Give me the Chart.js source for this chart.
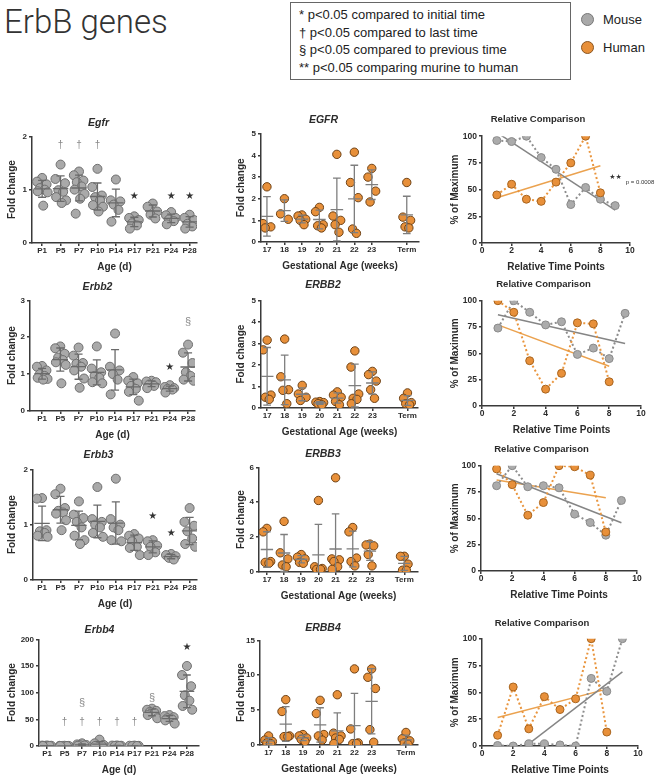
<!DOCTYPE html>
<html>
<head>
<meta charset="utf-8">
<script src="https://cdn.jsdelivr.net/npm/chart.js@4/dist/chart.umd.min.js"></script>
<style>
  *{margin:0;padding:0;box-sizing:border-box}
  html,body{width:666px;height:780px;background:#fff;overflow:hidden}
  body{position:relative;font-family:'Liberation Sans',Arial,sans-serif;color:#222}
  .head{position:absolute;left:4px;top:2px;font-family:Roboto,sans-serif;font-weight:300;font-size:33px;color:#333;line-height:40px}
  .key{position:absolute;left:290px;top:2px;width:281px;height:78px;border:1px solid #666;padding:3px 0 0 8px;font-size:13px;line-height:17.5px}
  .sp{position:absolute;left:581px;font-size:13px;line-height:16px}
  .sp i{display:inline-block;width:13px;height:13px;border-radius:50%;vertical-align:-2px;margin-right:9px}
  canvas{position:absolute}
</style>
</head>
<body>
<div class="head">ErbB genes</div>
<div class="key">
  <div>* p&lt;0.05 compared to initial time</div>
  <div>† p&lt;0.05 compared to last time</div>
  <div>§ p&lt;0.05 compared to previous time</div>
  <div>** p&lt;0.05 comparing murine to human</div>
</div>
<div class="sp" style="top:12px"><i style="background:#a9a9a9;border:1.5px solid #777"></i>Mouse</div>
<div class="sp" style="top:40px"><i style="background:#e8903a;border:1.5px solid #8a5520"></i>Human</div>
<script>
// ─── Mouse lung, fold change per postnatal day ──────────────────
const MOUSE_AGES = ["P1", "P5", "P7", "P10", "P14", "P17", "P21", "P24", "P28"];
const MOUSE_POS = [0, 1, 2, 3, 4, 5, 6, 7, 8];

const EGFR_MOUSE = [
  [1.22, 1.15, 1.10, 1.03, 1.00, 0.97, 0.95, 0.70],
  [1.47, 1.20, 1.12, 0.99, 0.96, 0.86, 0.80, 0.75],
  [1.34, 1.27, 1.17, 1.14, 1.06, 1.00, 0.92, 0.83, 0.55],
  [1.39, 1.05, 0.89, 0.86, 0.80, 0.71, 0.68, 0.59],
  [1.19, 0.80, 0.78, 0.72, 0.62, 0.40],
  [0.50, 0.47, 0.43, 0.37, 0.33, 0.27],
  [0.74, 0.68, 0.59, 0.53, 0.46],
  [0.58, 0.52, 0.47, 0.44, 0.41, 0.35],
  [0.53, 0.47, 0.43, 0.36, 0.31, 0.27],
];
const ERBB2_MOUSE = [
  [1.22, 1.20, 1.10, 1.00, 0.95, 0.90, 0.87, 0.85],
  [1.75, 1.70, 1.55, 1.45, 1.38, 1.32, 1.25, 0.75],
  [1.72, 1.50, 1.30, 1.28, 1.20, 1.10, 0.88, 0.63],
  [1.75, 1.15, 1.05, 0.95, 0.90, 0.78, 0.75],
  [2.10, 1.20, 1.10, 1.00, 0.85, 0.45],
  [0.92, 0.82, 0.75, 0.68, 0.60, 0.52, 0.28],
  [0.82, 0.80, 0.78, 0.72, 0.68, 0.62],
  [0.70, 0.65, 0.62, 0.60, 0.58, 0.50],
  [1.80, 1.58, 1.30, 1.05, 0.95, 0.85, 0.82],
];
const ERBB3_MOUSE = [
  [1.48, 1.47, 0.90, 0.88, 0.85, 0.80, 0.78],
  [1.65, 1.55, 1.30, 1.25, 1.22, 1.20, 1.08, 0.90],
  [1.42, 1.18, 1.12, 1.05, 0.95, 0.80, 0.72, 0.65],
  [1.68, 1.10, 1.05, 1.00, 0.95, 0.85, 0.78],
  [1.83, 1.10, 1.00, 0.95, 0.90, 0.72, 0.70],
  [0.83, 0.80, 0.75, 0.70, 0.60, 0.58, 0.45],
  [0.72, 0.70, 0.62, 0.60, 0.50, 0.45],
  [0.47, 0.45, 0.43, 0.40, 0.37],
  [1.30, 1.05, 0.98, 0.88, 0.75, 0.65, 0.60],
];
const ERBB4_MOUSE = [
  [1.0, 0.8, 0.5, 0.3, 0.2, 0.1],
  [0.5, 0.3, 0.2, 0.1, 0.05, 0.0],
  [5.0, 3.0, 2.0, 1.5, 1.0, 0.5],
  [12.0, 5.0, 2.0, 1.0, 0.5, 0.2],
  [1.0, 0.8, 0.5, 0.3, 0.2],
  [0.8, 0.5, 0.3, 0.2, 0.1],
  [70, 68, 66, 64, 62, 58, 52],
  [58, 56, 54, 52, 50, 48, 42],
  [150, 133, 112, 95, 85, 75, 68],
];

// significance marks: category index, height, symbol
const EGFR_MARKS = [
  { at: 1, y: 1.83, s: "†" }, { at: 2, y: 1.83, s: "†" }, { at: 3, y: 1.83, s: "†" },
  { at: 5, y: 0.875, s: "★" }, { at: 7, y: 0.875, s: "★" }, { at: 8, y: 0.875, s: "★" },
];
const ERBB2_MARKS = [{ at: 7, y: 1.18, s: "★" }, { at: 8, y: 2.4, s: "§" }];
const ERBB3_MARKS = [{ at: 6, y: 1.15, s: "★" }, { at: 7, y: 0.85, s: "★" }];
const ERBB4_MARKS = [
  { at: 1, y: 44, s: "†" }, { at: 2, y: 44, s: "†" }, { at: 3, y: 44, s: "†" },
  { at: 4, y: 44, s: "†" }, { at: 5, y: 44, s: "†" },
  { at: 2, y: 80, s: "§" }, { at: 6, y: 90, s: "§" }, { at: 8, y: 185, s: "★" },
];

// ─── Human lung, fold change per gestational week ───────────────
const HUMAN_AGES = ["17", "18", "19", "20", "21", "22", "23", "Term"];
const HUMAN_POS = [0, 1, 2, 3, 4, 5, 6, 8];

const EGFR_HUMAN = [
  [2.55, 0.85, 0.70, 0.65],
  [2.00, 1.30, 1.05],
  [1.25, 1.20, 1.05, 1.00, 0.80],
  [1.60, 1.40, 0.80, 0.75, 0.65],
  [4.05, 1.20, 1.00, 0.80, 0.45],
  [4.15, 2.75, 2.05, 0.60, 0.40],
  [3.40, 3.00, 2.35, 1.85],
  [2.75, 1.15, 1.00, 0.70, 0.65],
];
const ERBB2_HUMAN = [
  [3.15, 2.70, 0.60, 0.50, 0.40],
  [3.20, 1.45, 0.85, 0.82, 0.20],
  [1.05, 0.65, 0.50, 0.35],
  [0.30, 0.27, 0.25, 0.20, 0.15],
  [0.75, 0.60, 0.50, 0.30, 0.15],
  [2.65, 1.90, 0.65, 0.45, 0.40, 0.20],
  [1.70, 1.55, 1.25, 0.85, 0.45],
  [0.70, 0.45, 0.25, 0.20, 0.15],
];
const ERBB3_HUMAN = [
  [2.50, 2.30, 0.60, 0.55, 0.50],
  [2.90, 1.10, 0.75, 0.40, 0.30],
  [1.00, 0.85, 0.75, 0.55, 0.50],
  [4.10, 0.30, 0.20, 0.15, 0.15],
  [5.40, 0.75, 0.70, 0.60, 0.30, 0.15],
  [2.55, 2.30, 0.80, 0.60, 0.35],
  [1.60, 1.55, 1.50, 1.00, 0.35],
  [0.90, 0.90, 0.45, 0.10, 0.10],
];
const ERBB4_HUMAN = [
  [1.3, 0.7, 0.5, 0.3, 0.2],
  [6.5, 4.8, 1.3, 1.2, 1.2],
  [1.5, 1.3, 1.0, 0.8, 0.5],
  [6.4, 4.5, 1.5, 1.3, 0.7],
  [7.2, 1.7, 1.3, 1.0, 0.8, 0.2],
  [10.9, 2.3, 0.3, 0.2, 0.2],
  [10.9, 9.7, 8.1, 2.2, 0.4],
  [1.8, 0.9, 0.6, 0.3, 0.1],
];

// ─── Relative comparison, % of maximum ──────────────────────────
const REL_X_MOUSE = [1, 2, 3, 4, 5, 6, 7, 8, 9];
const REL_X_HUMAN = [1, 2, 3, 4, 5, 6, 7, 8];
const EGFR_REL_MOUSE = [96, 95, 100, 80, 69, 36, 52, 41, 35];
const EGFR_REL_HUMAN = [45, 55, 41, 39, 57, 75, 100, 47];
const ERBB2_REL_MOUSE = [74, 100, 89, 77, 80, 49, 55, 45, 88];
const ERBB2_REL_HUMAN = [100, 89, 43, 16, 31, 79, 78, 23];
const ERBB3_REL_MOUSE = [81, 100, 80, 81, 79, 54, 46, 34, 67];
const ERBB3_REL_HUMAN = [97, 82, 53, 65, 100, 99, 91, 37];
const ERBB4_REL_MOUSE = [0.5, 0, 2, 2, 1, 0, 63, 51, 100];
const ERBB4_REL_HUMAN = [10, 55, 16, 46, 34, 44, 100, 13];

// ─── Styling ────────────────────────────────────────────────────
const FONT = "'Liberation Sans', Arial, sans-serif";
const INK = "#2b2b2b";
const AXIS = "#3a3a3a";
const JIT_M = [0, -0.28, 0.24, -0.12, 0.14, -0.24, 0.3, 0.06, -0.18];
const JIT_H = [0, -0.22, 0.22, -0.1, 0.12, -0.2];
const X_AXIS_H = 30;
const COL_LEFT = [0, 228, 446];
const SYMBOL_STYLE = {
  "†": { font: `10px ${FONT}`, color: "#8a8a8a" },
  "§": { font: `11px ${FONT}`, color: "#8a8a8a" },
  "★": { font: `10px 'DejaVu Sans'`, color: "#333" },
};

const PANELS = [
  { col: 0, kind: "mouse", title: "Egfr", groups: EGFR_MOUSE, marks: EGFR_MARKS, yMax: 2, yStep: 1, area: [32, 136, 197, 243], xr: [-0.55, 8.4], tg: 13 },
  { col: 0, kind: "mouse", title: "Erbb2", groups: ERBB2_MOUSE, marks: ERBB2_MARKS, yMax: 3, yStep: 1, area: [30, 300, 195, 411], xr: [-0.66, 8.38], tg: 13 },
  { col: 0, kind: "mouse", title: "Erbb3", groups: ERBB3_MOUSE, marks: ERBB3_MARKS, yMax: 2, yStep: 1, area: [33, 469, 197, 580], xr: [-0.49, 8.4], tg: 14 },
  { col: 0, kind: "mouse", title: "Erbb4", groups: ERBB4_MOUSE, marks: ERBB4_MARKS, yMax: 200, yStep: 50, area: [39, 639, 199, 746], xr: [-0.46, 8.69], tg: 9 },
  { col: 1, kind: "human", title: "EGFR", groups: EGFR_HUMAN, yMax: 5, yStep: 1, area: [261, 134, 419, 242], xr: [-0.34, 8.7], tg: 13.5 },
  { col: 1, kind: "human", title: "ERBB2", groups: ERBB2_HUMAN, yMax: 5, yStep: 1, area: [261, 300, 418, 408], xr: [-0.35, 8.6], tg: 15 },
  { col: 1, kind: "human", title: "ERBB3", groups: ERBB3_HUMAN, yMax: 6, yStep: 2, area: [259, 467, 418, 572], xr: [-0.46, 8.8], tg: 13 },
  { col: 1, kind: "human", title: "ERBB4", groups: ERBB4_HUMAN, yMax: 15, yStep: 5, area: [260, 640, 418, 745], xr: [-0.5, 8.7], tg: 12 },
  { col: 2, kind: "rel", mouse: EGFR_REL_MOUSE, human: EGFR_REL_HUMAN, area: [482, 136, 630, 243], tg: 16.5, padR: 36,
    notes: [{ at: 9.02, y: 61.4, s: "★★", font: `7px 'DejaVu Sans'`, color: "#333" },
            { at: 9.71, y: 57.2, s: "p = 0.0008", font: `6px ${FONT}`, color: "#333", align: "left" }] },
  { col: 2, kind: "rel", mouse: ERBB2_REL_MOUSE, human: ERBB2_REL_HUMAN, area: [482, 301, 641, 406], tg: 16 },
  { col: 2, kind: "rel", mouse: ERBB3_REL_MOUSE, human: ERBB3_REL_HUMAN, area: [481, 466, 637, 571], tg: 16 },
  { col: 2, kind: "rel", mouse: ERBB4_REL_MOUSE, human: ERBB4_REL_HUMAN, area: [482, 639, 638, 746], tg: 15 },
];

// ─── Helpers ────────────────────────────────────────────────────
function meanSd(v) {
  const n = v.length;
  const m = v.reduce((a, b) => a + b, 0) / n;
  const sd = Math.sqrt(v.reduce((a, b) => a + (b - m) ** 2, 0) / (n - 1));
  return [m, sd];
}

function fitLine(xs, ys) {
  const n = xs.length;
  const mx = xs.reduce((a, b) => a + b, 0) / n;
  const my = ys.reduce((a, b) => a + b, 0) / n;
  let sxy = 0, sxx = 0;
  xs.forEach((x, i) => { sxy += (x - mx) * (ys[i] - my); sxx += (x - mx) ** 2; });
  const b = sxy / sxx;
  return [xs[0], xs[n - 1]].map(x => ({ x, y: my + b * (x - mx) }));
}

// mean line + SD whiskers, drawn over the dots
const errorBars = {
  id: "errorBars",
  afterDatasetsDraw(chart, args, o) {
    if (!o.groups) return;
    const { ctx, chartArea: a, scales: { x, y } } = chart;
    const unit = Math.abs(x.getPixelForValue(1) - x.getPixelForValue(0));
    ctx.save();
    ctx.beginPath();
    ctx.rect(a.left, a.top - 2, a.right - a.left, a.bottom - a.top + 2);
    ctx.clip();
    ctx.strokeStyle = o.color;
    ctx.lineWidth = 1.3;
    o.groups.forEach((v, i) => {
      const [m, sd] = meanSd(v);
      const cx = x.getPixelForValue(o.pos[i]);
      const ym = y.getPixelForValue(m), yt = y.getPixelForValue(m + sd), yb = y.getPixelForValue(m - sd);
      const hw = unit * o.meanW, cw = unit * o.capW;
      ctx.beginPath();
      ctx.moveTo(cx - hw, ym); ctx.lineTo(cx + hw, ym);
      ctx.moveTo(cx, yt); ctx.lineTo(cx, yb);
      ctx.moveTo(cx - cw, yt); ctx.lineTo(cx + cw, yt);
      ctx.moveTo(cx - cw, yb); ctx.lineTo(cx + cw, yb);
      ctx.stroke();
    });
    ctx.restore();
  },
};

// significance symbols and the p-value note
const sigMarks = {
  id: "sigMarks",
  afterDraw(chart, args, o) {
    if (!o.items) return;
    const { ctx, scales: { x, y } } = chart;
    ctx.save();
    ctx.textBaseline = "middle";
    o.items.forEach(m => {
      const st = SYMBOL_STYLE[m.s] || {};
      ctx.font = m.font || st.font;
      ctx.fillStyle = m.color || st.color;
      ctx.textAlign = m.align || "center";
      ctx.fillText(m.s, x.getPixelForValue(m.at), y.getPixelForValue(m.y));
    });
    ctx.restore();
  },
};

function scales(p, geo, xCfg, yCfg, xTitle, yTitle, yTitlePad, tickSize) {
  const tickFont = { family: FONT, size: tickSize, weight: "bold" };
  const titleFont = { family: FONT, size: 10, weight: "bold" };
  const grid = { drawOnChartArea: false, drawTicks: true, tickLength: 3, color: AXIS, lineWidth: 1.5 };
  const border = { color: AXIS, width: 1.5 };
  return {
    x: Object.assign({
      type: "linear", grid, border,
      title: { display: true, text: xTitle, font: titleFont, color: INK, padding: 0 },
      afterFit: s => { s.height = X_AXIS_H; },
    }, xCfg, { ticks: Object.assign({ font: tickFont, color: INK, padding: 0, autoSkip: false, maxRotation: 0 }, xCfg.ticks) }),
    y: Object.assign({
      type: "linear", grid, border,
      title: { display: true, text: yTitle, font: titleFont, color: INK, padding: { top: yTitlePad, bottom: 0 } },
      afterFit: s => { s.width = geo.yW; },
    }, yCfg, { ticks: Object.assign({ font: tickFont, color: INK, padding: 2 }, yCfg.ticks) }),
  };
}

function makePanel(p) {
  const titleSize = p.kind === "rel" ? 9.5 : 10.5;
  const lh = titleSize * 1.2;
  const left = COL_LEFT[p.col];
  const top = p.area[1] - p.tg - lh / 2;
  const padR = p.padR ?? 10;
  const geo = { yW: p.area[0] - left };
  const width = Math.round(p.area[2] - left + padR);
  const height = Math.round(p.area[3] - top + X_AXIS_H);

  const cv = document.createElement("canvas");
  cv.width = width; cv.height = height;
  cv.style.left = left + "px"; cv.style.top = top + "px";
  cv.style.width = width + "px"; cv.style.height = height + "px";
  document.body.appendChild(cv);

  const plugins = {
    legend: { display: false }, tooltip: { enabled: false },
    title: {
      display: true, text: p.kind === "rel" ? "Relative Comparison" : p.title, color: INK,
      font: { family: FONT, size: titleSize, weight: "bold", style: p.kind === "rel" ? "normal" : "italic" },
      padding: { top: 0, bottom: p.tg - lh / 2 },
    },
  };

  let datasets, sc;
  if (p.kind === "rel") {
    datasets = [
      { data: REL_X_MOUSE.map((x, i) => ({ x, y: p.mouse[i] })), showLine: true, borderColor: "#8d8d8d", borderWidth: 2,
        borderDash: [2, 2.5], pointRadius: 4, pointBackgroundColor: "#ababab", pointBorderColor: "#8a8a8a", pointBorderWidth: 1, order: 2 },
      { data: REL_X_HUMAN.map((x, i) => ({ x, y: p.human[i] })), showLine: true, borderColor: "#e9953e", borderWidth: 2,
        borderDash: [2, 2.5], pointRadius: 4, pointBackgroundColor: "#e8903a", pointBorderColor: "#a8641e", pointBorderWidth: 1, order: 1 },
      { data: fitLine(REL_X_MOUSE, p.mouse), showLine: true, pointRadius: 0, borderColor: "#858585", borderWidth: 1.5, clip: 0, order: 3 },
      { data: fitLine(REL_X_HUMAN, p.human), showLine: true, pointRadius: 0, borderColor: "#eba24f", borderWidth: 1.5, clip: 0, order: 3 },
    ];
    sc = scales(p, geo, { min: 0, max: 10, ticks: { stepSize: 2 } }, { min: 0, max: 100, ticks: { stepSize: 25 } },
      "Relative Time Points", "% of Maximum", 3, 8.5);
    if (p.notes) plugins.sigMarks = { items: p.notes };
  } else {
    const human = p.kind === "human";
    const cats = human ? HUMAN_AGES : MOUSE_AGES;
    const pos = human ? HUMAN_POS : MOUSE_POS;
    const jit = human ? JIT_H : JIT_M;
    const pts = [];
    p.groups.forEach((vals, i) => vals.forEach((v, j) => pts.push({ x: pos[i] + jit[j % jit.length], y: v })));
    datasets = [{
      data: pts, pointRadius: human ? 4.2 : 4.5, borderWidth: 1,
      backgroundColor: human ? "#e8903a" : "#a9a9a9",
      borderColor: human ? "#6e4216" : "#6f6f6f",
    }];
    sc = scales(p, geo,
      { min: p.xr[0], max: p.xr[1],
        afterBuildTicks: s => { s.ticks = pos.map(v => ({ value: v })); },
        ticks: { callback: v => cats[pos.indexOf(v)] } },
      { min: 0, max: p.yMax, ticks: { stepSize: p.yStep } },
      human ? "Gestational Age (weeks)" : "Age (d)", "Fold change", human ? 7 : 6, 8);
    plugins.errorBars = { groups: p.groups, pos, color: human ? "#7e7e7e" : "#6a6a6a", meanW: human ? 0.36 : 0.42, capW: 0.22 };
    if (p.marks) plugins.sigMarks = { items: p.marks };
  }

  new Chart(cv.getContext("2d"), {
    type: "scatter",
    data: { datasets },
    options: {
      responsive: false, animation: false, events: [],
      layout: { padding: { left: 0, right: padR, top: 0, bottom: 0 } },
      plugins, scales: sc,
    },
    plugins: [errorBars, sigMarks],
  });
}

PANELS.forEach(makePanel);
</script>
</body>
</html>
